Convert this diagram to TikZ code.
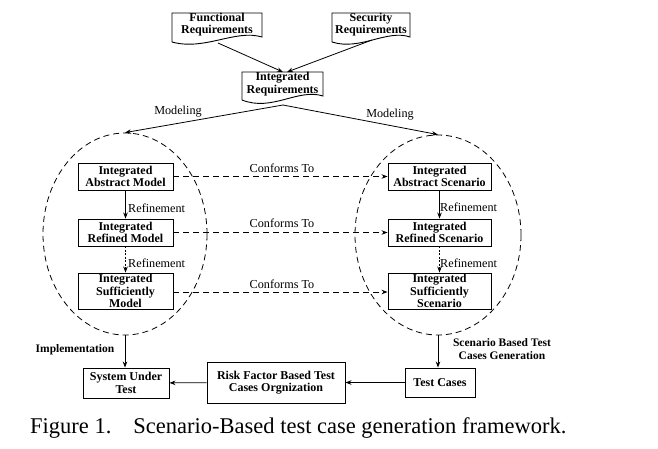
\documentclass[tikz,border=0pt]{standalone}
\usepackage{fontspec}
\setmainfont{Liberation Serif}
\usetikzlibrary{shapes.geometric,arrows.meta}
\tikzset{
  box/.style={draw, line width=0.9pt, rectangle, inner sep=0pt, align=center, font=\bfseries\fontsize{12}{12.5}\selectfont},
  doctext/.style={inner sep=0pt, align=center, font=\bfseries\fontsize{12}{12.5}\selectfont},
  docline/.style={draw, line width=0.9pt},
  lbl/.style={inner sep=0pt, font=\fontsize{12.2}{13}\selectfont},
  blbl/.style={inner sep=0pt, align=center, font=\bfseries\fontsize{11.5}{13}\selectfont},
  arr/.style={line width=0.8pt, -{Stealth[length=6pt,width=4.5pt]}},
  darr/.style={line width=0.8pt, dash pattern=on 6pt off 4pt, -{Stealth[length=6pt,width=4.5pt]}},
  farr/.style={line width=0.8pt, dash pattern=on 2pt off 1.5pt, -{Stealth[length=6pt,width=4.5pt]}},
  grp/.style={draw, ellipse, line width=0.8pt, dash pattern=on 6pt off 4pt, inner sep=0pt}
}
\begin{document}
\begin{tikzpicture}[x=1pt,y=-1pt]
\useasboundingbox (0,0) rectangle (658,448);
% document shapes
\draw[docline] (172,13) -- (262,13) -- (262,37) .. controls (235,29) and (205,51) .. (172,42) -- cycle;
\draw[docline] (332,13) -- (410,13) -- (410,37) .. controls (387,29) and (360,51) .. (332,42) -- cycle;
\draw[docline] (242,72) -- (323,72) -- (323,96) .. controls (298,88) and (272,112) .. (242,100) -- cycle;
\node[doctext] (fr) at (217,24.5) {Functional\\Requirements};
\node[doctext] (sr) at (371,24.5) {Security\\Requirements};
\node[doctext] (ir) at (282.5,84) {Integrated\\Requirements};
\coordinate (frb) at (218,43);
\coordinate (srb) at (372,40);
\coordinate (irt1) at (283,72);
\coordinate (irt2) at (287,72);
\coordinate (irb) at (283,105);
\draw[arr] (frb) -- (irt1);
\draw[arr] (srb) -- (irt2);
% groups
\node[grp, minimum width=164, minimum height=202] (lell) at (125,234) {};
\node[grp, minimum width=166, minimum height=200] (rell) at (438,235) {};
\draw[arr] (irb) -- (lell.north);
\draw[arr] (irb) -- (rell.north);
\node[lbl] (mod1) at (178,112) {Modeling};
\node[lbl] (mod2) at (390,115) {Modeling};
% left boxes
\node[box, minimum width=95, minimum height=27] (am) at (125.5,176.5) {Integrated\\Abstract Model};
\node[box, minimum width=95, minimum height=27] (rm) at (125.5,232.5) {Integrated\\Refined Model};
\node[box, minimum width=95, minimum height=36] (sm) at (125.5,291) {Integrated\\Sufficiently\\Model};
% right boxes
\node[box, minimum width=103, minimum height=27] (as) at (439.5,176.5) {Integrated\\Abstract Scenario};
\node[box, minimum width=103, minimum height=27] (rs) at (439.5,232.5) {Integrated\\Refined Scenario};
\node[box, minimum width=103, minimum height=36] (ss) at (439.5,291) {Integrated\\Sufficiently\\Scenario};
% refinements
\draw[arr] (am) -- (rm);
\draw[farr] (rm) -- (sm);
\draw[arr] (as) -- (rs);
\draw[farr] (rs) -- (ss);
\node[lbl, anchor=west] (ref1) at (128,208) {Refinement};
\node[lbl, anchor=west] (ref2) at (128,263) {Refinement};
\node[lbl, anchor=west] (ref3) at (440,207) {Refinement};
\node[lbl, anchor=west] (ref4) at (440,263) {Refinement};
% conforms
\draw[darr] (am) -- (as);
\draw[darr] (rm) -- (rs);
\draw[darr] (sm.east |- 0,292) -- (ss.west |- 0,292);
\node[lbl] (c1) at (282,168) {Conforms To};
\node[lbl] (c2) at (282,223) {Conforms To};
\node[lbl] (c3) at (282,284) {Conforms To};
% bottom
\node[box, minimum width=86, minimum height=30] (sut) at (126,383) {System Under\\Test};
\node[box, minimum width=138, minimum height=41] (risk) at (276,382.5) {Risk Factor Based Test\\Cases Orgnization};
\node[box, minimum width=70, minimum height=29] (tc) at (440,382.5) {Test Cases};
\draw[arr] (lell.south) -- (lell.south |- sut.north);
\draw[arr] (rell.south) -- (rell.south |- tc.north);
\draw[arr] (tc) -- (risk);
\draw[arr] (risk) -- (sut);
\node[blbl] (impl) at (75,350) {Implementation};
\node[blbl] (sbg) at (502,349) {Scenario Based Test\\Cases Generation};
% caption
\node[inner sep=0pt, anchor=base west, font=\fontsize{22.5}{24}\selectfont] (cap) at (30,433) {Figure 1.\hspace{22pt}Scenario-Based test case generation framework.};
\end{tikzpicture}
\end{document}
